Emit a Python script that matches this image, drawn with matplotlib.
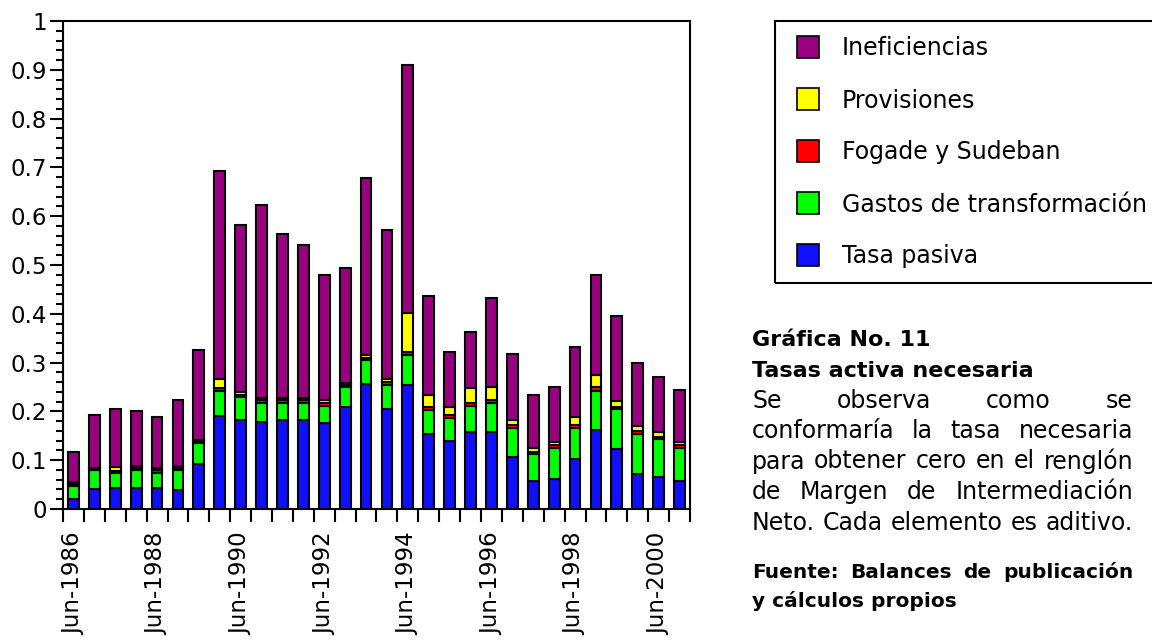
import matplotlib
matplotlib.use("Agg")
import matplotlib.pyplot as plt
from matplotlib.patches import Rectangle
import numpy as np

plt.rcParams['font.family'] = ['DejaVu Sans']

W, H = 1152, 641

# semestres Jun-1986 ... Dic-2000
periodos = [f"{m}-{a}" for a in range(1986, 2001) for m in ("Jun", "Dic")]

tasa_pasiva = [0.020, 0.042, 0.044, 0.044, 0.044, 0.039, 0.092, 0.190, 0.182, 0.178,
               0.182, 0.182, 0.177, 0.210, 0.256, 0.205, 0.255, 0.154, 0.139, 0.158,
               0.158, 0.107, 0.057, 0.061, 0.103, 0.162, 0.122, 0.071, 0.066, 0.057]
gastos_transf = [0.027, 0.038, 0.029, 0.036, 0.030, 0.041, 0.044, 0.052, 0.048, 0.039,
                 0.035, 0.035, 0.035, 0.039, 0.049, 0.050, 0.060, 0.049, 0.047, 0.054,
                 0.060, 0.060, 0.055, 0.064, 0.064, 0.080, 0.082, 0.082, 0.077, 0.069]
fogade = [0.004, 0.003, 0.004, 0.003, 0.005, 0.003, 0.004, 0.005, 0.003, 0.006,
          0.006, 0.006, 0.006, 0.005, 0.004, 0.006, 0.006, 0.006, 0.006, 0.006,
          0.006, 0.006, 0.005, 0.006, 0.006, 0.007, 0.006, 0.006, 0.004, 0.006]
provisiones = [0.005, 0.001, 0.009, 0.005, 0.004, 0.006, 0.002, 0.020, 0.006, 0.005,
               0.005, 0.005, 0.006, 0.005, 0.007, 0.005, 0.080, 0.025, 0.016, 0.030,
               0.025, 0.010, 0.007, 0.007, 0.016, 0.025, 0.011, 0.011, 0.010, 0.005]
ineficiencias = [0.061, 0.108, 0.119, 0.113, 0.105, 0.135, 0.184, 0.425, 0.342, 0.395,
                 0.335, 0.312, 0.256, 0.235, 0.363, 0.306, 0.509, 0.203, 0.114, 0.115,
                 0.184, 0.135, 0.110, 0.111, 0.142, 0.205, 0.175, 0.129, 0.113, 0.106]

# de abajo hacia arriba
series = [("Tasa pasiva", tasa_pasiva, "#1010FF"),
          ("Gastos de transformación", gastos_transf, "#00FF00"),
          ("Fogade y Sudeban", fogade, "#FF0000"),
          ("Provisiones", provisiones, "#FFFF00"),
          ("Ineficiencias", ineficiencias, "#990080")]

ytick_vals = [0, 0.1, 0.2, 0.3, 0.4, 0.5, 0.6, 0.7, 0.8, 0.9, 1]
ytick_txt = ['0', '0.1', '0.2', '0.3', '0.4', '0.5', '0.6', '0.7', '0.8', '0.9', '1']

fig = plt.figure(figsize=(W / 100, H / 100), dpi=100)
ax = fig.add_axes([63 / W, 1 - 509 / H, (690 - 63) / W, (509 - 21) / H])

x = np.arange(len(periodos))
base = np.zeros(len(periodos))
for nombre, vals, color in series:
    ax.bar(x, vals, 0.52, bottom=base, color=color, edgecolor='black',
           linewidth=1.5, label=nombre)
    base += np.array(vals)

ax.set_xlim(-0.5, len(periodos) - 0.5)
ax.set_ylim(0, 1)
ax.set_yticks(ytick_vals)
ax.set_yticklabels(ytick_txt)
ax.set_yticks(np.arange(0, 1.001, 0.02), minor=True)
ax.tick_params(axis='y', which='major', length=9.5, width=1.5, labelsize=16.5, pad=2)
ax.tick_params(axis='y', which='minor', length=5, width=1.5)

ax.set_xticks(x[::4])
ax.set_xticklabels([periodos[i] for i in x[::4]], rotation=90)
ax.set_xticks(np.arange(-0.5, len(periodos)), minor=True)
ax.tick_params(axis='x', which='major', length=0, pad=17, labelsize=16.5)
ax.tick_params(axis='x', which='minor', length=9, width=1.5)
for s in ax.spines.values():
    s.set_linewidth(1.5)

# leyenda
filas = [46.7, 99, 151, 203, 255]
for (nombre, vals, color), yy in zip(series[::-1], filas):
    fig.add_artist(Rectangle((797 / W, 1 - (yy + 11) / H), 22 / W, 22 / H,
                             transform=fig.transFigure, facecolor=color,
                             edgecolor='black', lw=1.2))
    fig.text(842 / W, 1 - (yy + 8.5) / H, nombre, fontsize=17, va='baseline')
fig.add_artist(Rectangle((775 / W, 1 - 283 / H), (1175 - 775) / W, (283 - 21.5) / H,
                         transform=fig.transFigure, fill=False, edgecolor='black',
                         lw=1.5))

# texto de la grafica
x0, x1 = 752, 1133
renderer = fig.canvas.get_renderer()


def linea(txt, y, size, bold=False, justificar=False):
    peso = 'bold' if bold else 'normal'
    if not justificar:
        fig.text(x0 / W, 1 - y / H, txt, fontsize=size, fontweight=peso, va='baseline')
        return
    palabras = txt.split()
    objs = [fig.text(0, 1 - y / H, p, fontsize=size, fontweight=peso, va='baseline')
            for p in palabras]
    anchos = [o.get_window_extent(renderer).width for o in objs]
    hueco = (x1 - x0 - sum(anchos)) / (len(palabras) - 1)
    pos = x0
    for o, a in zip(objs, anchos):
        o.set_x(pos / W)
        pos += a + hueco


linea("Gráfica No. 11", 346.5, 16, bold=True)
linea("Tasas activa necesaria", 377, 16, bold=True)
linea("Se observa como se", 407.5, 17, justificar=True)
linea("conformaría la tasa necesaria", 438, 17, justificar=True)
linea("para obtener cero en el renglón", 468.5, 17, justificar=True)
linea("de Margen de Intermediación", 499, 17, justificar=True)
linea("Neto. Cada elemento es aditivo.", 529.5, 17, justificar=True)
linea("Fuente: Balances de publicación", 578, 14.5, bold=True, justificar=True)
linea("y cálculos propios", 607, 14.5, bold=True)

fig.savefig("out.png", dpi=100)
